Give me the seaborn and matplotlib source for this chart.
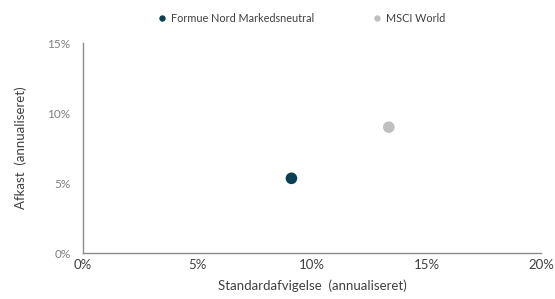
import matplotlib
matplotlib.use("Agg")
import matplotlib.pyplot as plt
import seaborn as sns
import pandas as pd
from matplotlib.ticker import PercentFormatter

# Data
names = ["Formue Nord Markedsneutral", "MSCI World"]
risk = [9.1, 13.35]      # standard deviation, annualised (%)
ret = [5.35, 9.0]        # return, annualised (%)
colors = ["#0b3f52", "#bfbfbf"]

df = pd.DataFrame({"name": names, "risk": risk, "ret": ret})

sns.set_style("white")
plt.rcParams["font.family"] = ["Lato", "DejaVu Sans"]
txt = "#404040"

fig = plt.figure(figsize=(5.55, 2.99), dpi=100)
ax = fig.add_axes([0.1495, 0.1528, 0.8255, 0.7032])

sns.scatterplot(data=df, x="risk", y="ret", hue="name", palette=colors,
                s=70, edgecolor="none", ax=ax, legend=True)

ax.set_xlim(0, 20)
ax.set_ylim(0, 15)
ax.set_xticks([0, 5, 10, 15, 20])
ax.set_yticks([0, 5, 10, 15])
ax.xaxis.set_major_formatter(PercentFormatter(decimals=0))
ax.yaxis.set_major_formatter(PercentFormatter(decimals=0))
ax.tick_params(axis="x", length=0, pad=4, labelsize=9.5, labelcolor=txt)
ax.tick_params(axis="y", length=0, pad=9, labelsize=8.5, labelcolor="#7f7f7f")

for side in ["top", "right"]:
    ax.spines[side].set_visible(False)
for side in ["left", "bottom"]:
    ax.spines[side].set_color("#8c8c8c")
    ax.spines[side].set_linewidth(1.0)

ax.set_xlabel("Standardafvigelse  (annualiseret)", fontsize=9.5, color=txt, labelpad=6)
ax.set_ylabel("Afkast  (annualiseret)", fontsize=9.5, color=txt, labelpad=15)

handles, labels = ax.get_legend_handles_labels()
leg = ax.legend(handles, labels, loc="lower center", bbox_to_anchor=(0.47, 1.07), ncol=2,
                frameon=False, fontsize=7.8, handletextpad=-0.2, columnspacing=4.8,
                markerscale=0.55, borderaxespad=0)
for t in leg.get_texts():
    t.set_color(txt)

fig.savefig("out.png", dpi=100)
